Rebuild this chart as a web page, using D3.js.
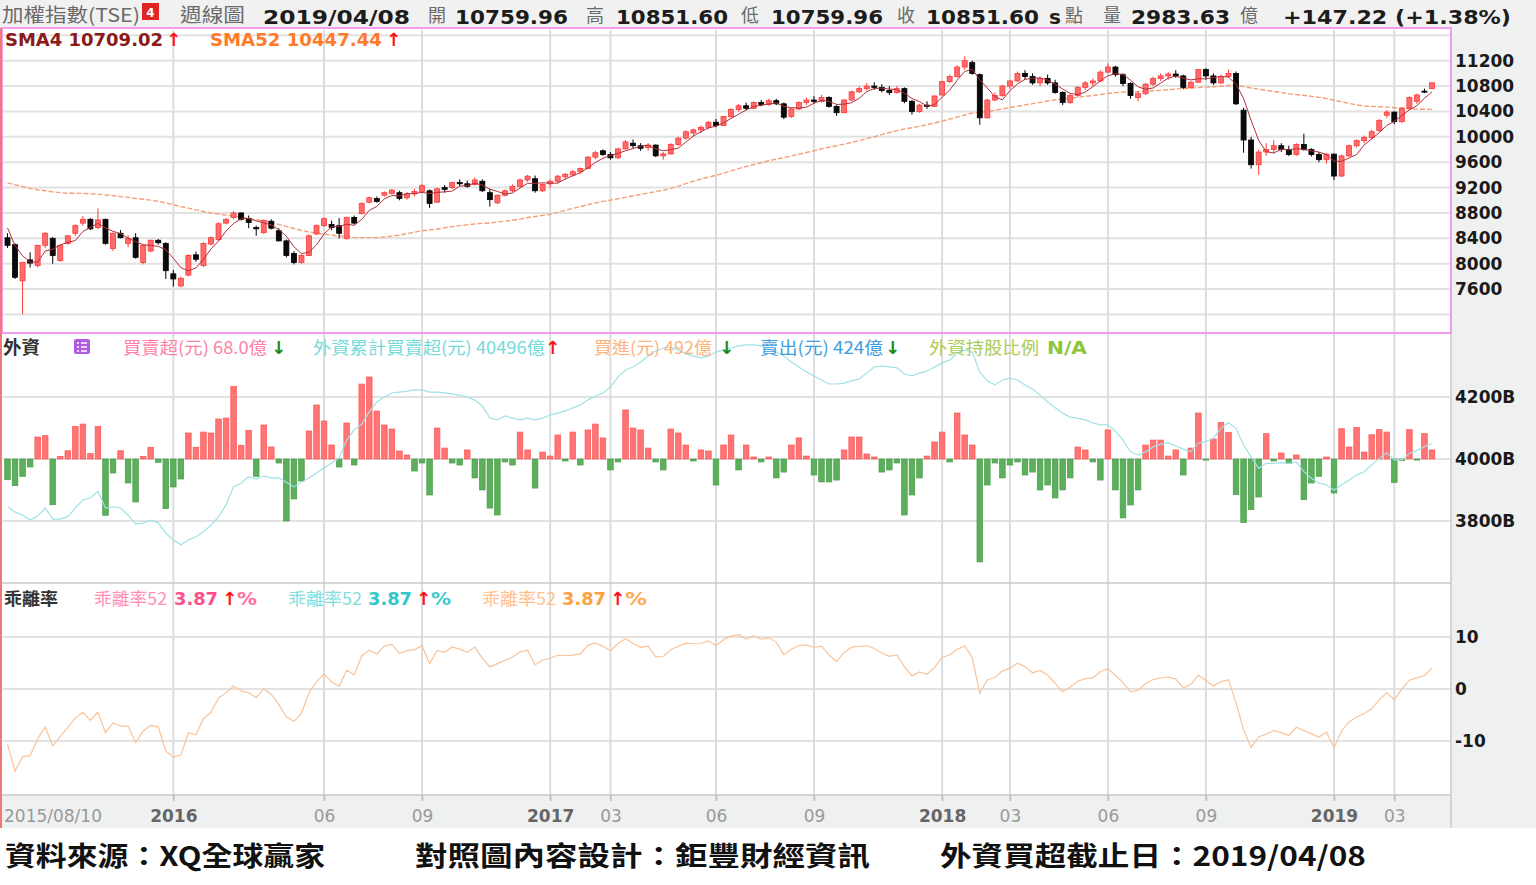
<!DOCTYPE html>
<html><head><meta charset="utf-8">
<script src="https://cdn.jsdelivr.net/npm/d3@7"></script>
<style>html,body{margin:0;padding:0;background:#fff}svg{display:block}</style>
</head><body>
<svg id="c" width="1536" height="885"></svg>
<script>
// ---------------- DATA ----------------
const skippedWeeks = ["2016-02-08","2019-02-04"];
const open = [
8410,8300,7730,8060,7970,8290,8400,8050,8320,8480,
8640,8700,8570,8700,8240,8480,8320,8410,8020,8200,
8370,8320,7840,7650,7820,8140,7970,8310,8380,8640,
8730,8800,8710,8570,8490,8670,8520,8360,8160,8020,
8130,8470,8600,8620,8600,8400,8730,8790,8970,9030,
9080,9110,9120,9040,9100,9140,9150,8970,9200,9200,
9280,9260,9250,9300,9120,8960,9080,9150,9220,9320,
9340,9150,9260,9300,9370,9400,9450,9500,9680,9780,
9720,9670,9810,9900,9860,9830,9870,9700,9730,9880,
9980,10060,10110,10150,10230,10180,10320,10430,10490,10450,
10540,10510,10570,10520,10320,10440,10540,10580,10560,10620,
10480,10380,10580,10710,10760,10800,10780,10730,10700,10760,
10560,10400,10500,10480,10660,10870,10950,11100,11170,10980,
10300,10580,10650,10800,10880,11000,10950,10850,10920,10850,
10700,10540,10650,10780,10850,10880,11020,11100,10980,10840,
10620,10680,10830,10920,10960,10990,10960,10780,10860,11060,
10960,10850,10950,11000,10420,9950,9560,9760,9800,9860,
9800,9720,9880,9800,9720,9640,9727,9382,9700,9860,
9940,9990,10100,10340,10390,10240,10450,10560,10720,10759.96];
const high = [
8480,8320,8030,8180,8300,8500,8420,8300,8450,8620,
8750,8720,8870,8710,8490,8530,8450,8480,8300,8380,
8390,8340,7900,7800,8150,8190,8340,8430,8650,8720,
8830,8810,8760,8600,8700,8700,8560,8380,8200,8150,
8460,8620,8730,8680,8720,8740,8760,8970,9060,9060,
9140,9180,9150,9130,9180,9260,9170,9200,9240,9290,
9330,9310,9360,9330,9180,9090,9170,9250,9340,9400,
9390,9270,9330,9400,9430,9480,9520,9700,9780,9800,
9760,9830,9950,9960,9900,9900,9880,9760,9900,10000,
10100,10130,10180,10250,10280,10330,10450,10520,10540,10560,
10580,10600,10600,10540,10460,10560,10620,10640,10660,10640,
10500,10600,10730,10800,10850,10860,10830,10800,10800,10780,
10580,10520,10560,10660,10880,10980,11130,11270,11200,11000,
10600,10700,10820,10900,11030,11050,11000,10950,10980,10900,
10720,10680,10800,10880,10920,11050,11160,11120,11000,10860,
10720,10850,10950,11000,11020,11050,10980,10880,11060,11080,
11000,10980,11060,11030,10460,10000,9800,9900,9950,9900,
9860,9900,10050,9820,9760,9740,9740,9720,9880,9960,
10020,10110,10280,10420,10400,10470,10640,10680,10760,10851.60];
const low = [
8250,7760,7203,7940,7940,8250,8000,8030,8300,8440,
8600,8530,8540,8300,8200,8400,8260,8080,7990,8180,
8300,7760,7640,7627,7800,8030,7950,8290,8360,8620,
8700,8680,8560,8440,8470,8540,8350,8100,7990,8000,
8120,8450,8580,8530,8400,8380,8620,8780,8950,8960,
9060,9090,9000,9010,9060,9120,8880,8960,9120,9180,
9220,9200,9230,9130,8900,8940,9060,9130,9200,9290,
9120,9130,9200,9270,9330,9380,9420,9490,9650,9700,
9640,9650,9800,9820,9780,9780,9680,9640,9720,9860,
9950,10000,10060,10120,10150,10170,10300,10400,10420,10440,
10480,10490,10500,10280,10300,10420,10500,10520,10540,10460,
10330,10370,10560,10690,10730,10740,10700,10660,10680,10530,
10350,10380,10440,10470,10650,10850,10930,11060,10980,10190,
10290,10560,10630,10760,10860,10900,10820,10800,10820,10680,
10500,10520,10630,10740,10800,10860,11000,10950,10800,10600,
10560,10660,10800,10880,10900,10930,10750,10760,10850,10900,
10820,10830,10930,10500,9750,9500,9400,9700,9740,9760,
9700,9700,9780,9690,9600,9580,9319,9370,9690,9830,
9900,9960,10080,10300,10200,10220,10430,10520,10690,10759.96];
const close = [
8290,7786,8019,8010,8290,8480,8130,8290,8440,8600,
8700,8550,8690,8320,8480,8410,8400,8100,8290,8370,
8330,7890,7760,7770,8130,8070,8320,8410,8630,8700,
8800,8700,8650,8550,8680,8560,8360,8130,8020,8130,
8440,8600,8710,8570,8480,8730,8640,8950,9040,8980,
9120,9160,9030,9100,9140,9230,8950,9180,9170,9280,
9260,9220,9320,9150,9010,9080,9150,9220,9320,9380,
9150,9250,9300,9380,9410,9450,9500,9680,9750,9720,
9670,9810,9920,9860,9820,9870,9700,9730,9880,9980,
10080,10110,10150,10230,10180,10320,10430,10490,10450,10540,
10510,10570,10520,10310,10440,10540,10580,10560,10620,10480,
10380,10580,10710,10760,10800,10780,10730,10700,10760,10560,
10400,10500,10480,10643,10870,10950,11100,11200,11000,10300,
10580,10650,10800,10880,11000,10950,10850,10920,10850,10700,
10540,10650,10780,10850,10880,11020,11100,10980,10840,10650,
10680,10830,10920,10960,10990,10960,10780,10860,11060,10960,
10850,10950,11000,10520,9950,9560,9760,9800,9860,9800,
9720,9880,9800,9720,9640,9727,9382,9700,9860,9940,
9990,10080,10260,10390,10240,10450,10620,10660,10704,10851.60];
// weekly closes of the 51 weeks before 2015/08/10 (needed by the 52-week average)
const priorCloses = [
9370,9450,9510,9450,9250,9100,8950,8930,8650,8720,
8970,8930,9000,9000,9190,9090,8950,8900,9170,9300,
9150,9200,9400,9360,9520,9590,9600,9620,9560,9590,
9630,9600,9590,9660,9820,9970,9800,9700,9720,9660,
9700,9450,9320,9280,9350,9280,9000,9050,8900,8670,8400];
// foreign investors weekly net buy/sell (億)
const foreignNet = [
-155,-200,-130,-60,165,175,-343,20,62,245,
262,40,245,-422,-105,62,-180,-322,20,88,
-25,-372,-210,-150,195,88,202,195,300,307,
545,103,215,-130,255,90,-30,-465,-300,-165,
210,405,285,105,-60,270,-45,562,615,360,
255,225,60,30,-90,-30,-270,232,82,-30,
-45,68,-142,-232,-368,-420,-22,-45,202,68,
-218,52,22,180,-15,202,-45,218,262,158,
-82,-22,368,232,218,82,-22,-82,225,195,
105,-15,68,60,-195,105,180,-82,105,15,
-22,15,-142,-98,105,158,22,-120,-172,-172,
-158,68,165,165,38,15,-98,-82,-30,-420,
-270,-142,22,128,202,-22,345,180,105,-772,
-195,-30,-142,-45,-22,-120,-98,-232,-195,-292,
-232,-142,90,68,-22,-158,218,-232,-442,-345,
-232,105,142,142,22,68,-120,82,345,-8,
150,274,200,-268,-476,-380,-285,190,-15,45,
-35,30,-305,-180,-130,15,-255,227,90,237,
52,182,220,202,-175,-11,220,-8,190,68];
// foreign cumulative net buy (B)
const foreignCum = [
3846,3829,3819,3803,3816,3842,3806,3806,3814,3842,
3868,3874,3895,3842,3846,3842,3819,3790,3794,3803,
3794,3761,3739,3723,3739,3749,3765,3787,3814,3852,
3911,3922,3943,3935,3945,3939,3939,3925,3910,3925,
3939,3955,3971,3987,4003,4061,4094,4113,4152,4184,
4200,4213,4216,4219,4223,4223,4216,4216,4213,4210,
4206,4200,4190,4171,4132,4126,4139,4132,4126,4132,
4126,4132,4142,4148,4155,4165,4174,4190,4203,4213,
4232,4265,4287,4297,4313,4332,4348,4358,4361,4352,
4339,4332,4326,4332,4345,4352,4358,4365,4368,4368,
4365,4355,4345,4332,4313,4297,4281,4268,4255,4242,
4242,4245,4252,4258,4277,4297,4300,4297,4294,4274,
4268,4277,4284,4297,4310,4319,4342,4352,4345,4281,
4252,4239,4255,4261,4255,4239,4226,4206,4184,4165,
4148,4135,4132,4126,4116,4110,4110,4090,4061,4023,
4013,4023,4039,4048,4052,4042,4032,4024,4051,4056,
4067,4099,4117,4099,4045,4007,3970,3986,3986,3988,
3986,3991,3959,3938,3922,3916,3900,3916,3932,3948,
3959,3981,4002,4020,3997,3997,4018,4027,4040,4050];
const priceTicks = [7600,8000,8400,8800,9200,9600,10000,10400,10800,11200];
const priceGrid = [7200,7600,8000,8400,8800,9200,9600,10000,10400,10800,11200,11600];
const cumTicks = [3800,4000,4200];
const devTicks = [-10,0,10];
const xTickDates  = ["2016-01-11","2016-06-06","2016-09-05","2017-01-02","2017-02-27","2017-06-05","2017-09-04","2018-01-01","2018-03-05","2018-06-04","2018-09-03","2018-12-31","2019-03-04"];
const xTickLabels = ["2016","06","09","2017","03","06","09","2018","03","06","09","2019","03"];

// ---------------- SETUP ----------------
const fmt = d3.timeFormat("%Y-%m-%d");
const dates = d3.timeMonday.range(new Date(2015,7,10), new Date(2019,3,9)).map(fmt).filter(d=>!skippedWeeks.includes(d));
const N = dates.length;
const idx = d3.range(N);
const allC = priorCloses.concat(close);
const P = priorCloses.length;
const sma4 = idx.map(i=>d3.mean(allC.slice(i+P-3,i+P+1)));
const sma52 = idx.map(i=>d3.mean(allC.slice(i+P-51,i+P+1)));
const dev52 = idx.map(i=>(close[i]-sma52[i])/sma52[i]*100);

const svg = d3.select("#c");
const L = 3, R = 1451;
const x = d3.scalePoint().domain(dates).range([7.5,1432]);
const yP = d3.scaleLinear().domain([7600,11200]).range([289.1,60.7]);
const yCum = d3.scaleLinear().domain([3800,4200]).range([521,397]);
const yBar = d3.scaleLinear().domain([0,750]).range([459,359]);
const yDev = d3.scaleLinear().domain([-10,10]).range([741,637]);

const NUM = "'DejaVu Sans', Verdana, sans-serif";
const CJK = "'Noto Sans CJK TC', 'Noto Sans CJK SC', sans-serif";

// backgrounds
svg.append("rect").attr("width",1536).attr("height",885).attr("fill","#fff");
svg.append("rect").attr("x",0).attr("y",0).attr("width",1536).attr("height",28).attr("fill","#f1f1f1");
svg.append("rect").attr("x",R).attr("y",28).attr("width",1536-R).attr("height",767).attr("fill","#eff1f1");
svg.append("rect").attr("x",0).attr("y",795).attr("width",1536).attr("height",33).attr("fill","#eff1f1");

// grid
const grid = svg.append("g");
grid.selectAll("line.hp").data(priceGrid).join("line")
  .attr("x1",L).attr("x2",R).attr("y1",d=>yP(d)).attr("y2",d=>yP(d))
  .attr("stroke","#e2e2e2").attr("stroke-width",2);
grid.selectAll("line.hc").data(cumTicks).join("line")
  .attr("x1",L).attr("x2",R).attr("y1",d=>yCum(d)).attr("y2",d=>yCum(d))
  .attr("stroke","#e2e2e2").attr("stroke-width",2);
grid.selectAll("line.hd").data(devTicks).join("line")
  .attr("x1",L).attr("x2",R).attr("y1",d=>yDev(d)).attr("y2",d=>yDev(d))
  .attr("stroke","#e2e2e2").attr("stroke-width",2);
grid.selectAll("line.v").data(xTickDates).join("line")
  .attr("x1",d=>x(d)).attr("x2",d=>x(d)).attr("y1",30).attr("y2",800)
  .attr("stroke","#dcdcdc").attr("stroke-width",2);

// panel frames
svg.append("line").attr("x1",0).attr("x2",R).attr("y1",583).attr("y2",583).attr("stroke","#c8c8c8").attr("stroke-width",1.5);
svg.append("line").attr("x1",0).attr("x2",R).attr("y1",795).attr("y2",795).attr("stroke","#c8c8c8").attr("stroke-width",1.5);
svg.append("line").attr("x1",R).attr("x2",R).attr("y1",333).attr("y2",828).attr("stroke","#c8c8c8").attr("stroke-width",1.5);

// ---------------- PRICE PANEL ----------------
const pg = svg.append("g");
pg.append("path").datum(idx).attr("fill","none").attr("stroke","#f4a07a").attr("stroke-width",1.4)
  .attr("stroke-dasharray","5,2")
  .attr("d",d3.line().x(i=>x(dates[i])).y(i=>yP(sma52[i])));
pg.selectAll("line.wick").data(idx).join("line")
  .attr("x1",i=>x(dates[i])).attr("x2",i=>x(dates[i]))
  .attr("y1",i=>yP(high[i])).attr("y2",i=>yP(low[i]))
  .attr("stroke",i=>close[i]>=open[i]?"#ff3a3a":"#000").attr("stroke-width",1);
pg.selectAll("rect.body").data(idx).join("rect")
  .attr("x",i=>x(dates[i])-2.5).attr("width",5)
  .attr("y",i=>yP(Math.max(open[i],close[i])))
  .attr("height",i=>Math.max(1,Math.abs(yP(open[i])-yP(close[i]))))
  .attr("fill",i=>close[i]>=open[i]?"#ff6b6b":"#0a0a0a")
  .attr("stroke",i=>close[i]>=open[i]?"#ff3a3a":"#000").attr("stroke-width",0.8);
pg.append("path").datum(idx).attr("fill","none").attr("stroke","#b0303a").attr("stroke-width",1)
  .attr("d",d3.line().x(i=>x(dates[i])).y(i=>yP(sma4[i])));

// ---------------- FOREIGN PANEL ----------------
const fg = svg.append("g");
fg.selectAll("rect.bar").data(idx).join("rect")
  .attr("x",i=>x(dates[i])-2.8).attr("width",5.6)
  .attr("y",i=>foreignNet[i]>=0?yBar(foreignNet[i]):yBar(0))
  .attr("height",i=>Math.max(1,Math.abs(yBar(foreignNet[i])-yBar(0))))
  .attr("fill",i=>foreignNet[i]>=0?"#ff7474":"#5cb05c")
  .attr("stroke",i=>foreignNet[i]>=0?"#ff5555":"#4a9a4a").attr("stroke-width",0.7);
fg.append("path").datum(idx).attr("fill","none").attr("stroke","#9fe2e6").attr("stroke-width",1.2)
  .attr("d",d3.line().x(i=>x(dates[i])).y(i=>yCum(foreignCum[i])));

// ---------------- DEVIATION PANEL ----------------
svg.append("path").datum(idx).attr("fill","none").attr("stroke","#f9c49a").attr("stroke-width",1.2)
  .attr("d",d3.line().x(i=>x(dates[i])).y(i=>yDev(dev52[i])));

// ---------------- AXES ----------------
function styleAxis(g){
  g.select(".domain").remove();
  g.selectAll(".tick line").remove();
  g.selectAll("text").attr("font-family",NUM).attr("font-weight","bold").attr("font-size",17).attr("fill","#1a1a1a");
}
svg.append("g").attr("transform",`translate(${R+1},0)`)
  .call(d3.axisRight(yP).tickValues(priceTicks).tickSize(0).tickPadding(3).tickFormat(d=>String(d))).call(styleAxis);
svg.append("g").attr("transform",`translate(${R+1},0)`)
  .call(d3.axisRight(yCum).tickValues(cumTicks).tickSize(0).tickPadding(3).tickFormat(d=>d+"B")).call(styleAxis);
svg.append("g").attr("transform",`translate(${R+1},0)`)
  .call(d3.axisRight(yDev).tickValues(devTicks).tickSize(0).tickPadding(3).tickFormat(d=>String(d))).call(styleAxis);

const xa = svg.append("g").attr("transform","translate(0,795)")
  .call(d3.axisBottom(x).tickValues(xTickDates).tickSize(6).tickPadding(9).tickFormat((d,k)=>xTickLabels[k]));
xa.select(".domain").remove();
xa.selectAll(".tick line").attr("stroke","#bdbdbd").attr("stroke-width",1.5);
xa.selectAll("text").attr("font-family",NUM).attr("font-size",17)
  .attr("fill",(d,k)=>xTickLabels[k].length===4?"#666":"#999")
  .attr("font-weight",(d,k)=>xTickLabels[k].length===4?"bold":"normal");
svg.append("text").attr("x",4).attr("y",822).attr("font-family",NUM).attr("font-size",17)
  .attr("fill","#999").text("2015/08/10");

// price panel border + left edge
svg.append("rect").attr("x",2).attr("y",28).attr("width",R-2).attr("height",305)
  .attr("fill","none").attr("stroke","#f29cf0").attr("stroke-width",2);
svg.append("line").attr("x1",1).attr("x2",1).attr("y1",28).attr("y2",828).attr("stroke","#f07878").attr("stroke-width",2);

// ---------------- TEXT ----------------
function t(xp,yp,s,o={}){
  const e = svg.append("text").attr("x",xp).attr("y",yp).text(s)
    .attr("font-family",o.f||CJK).attr("font-size",o.s||18).attr("fill",o.c||"#333")
    .attr("font-weight",o.w||"normal");
  if(o.len) e.attr("textLength",o.len).attr("lengthAdjust","spacingAndGlyphs");
  return e;
}
const grey="#6a6a6a", dark="#1c1c1c";
// header
t(2,22,"加權指數(TSE)",{c:grey,s:19,len:138});
svg.append("rect").attr("x",142).attr("y",3).attr("width",17).attr("height",17).attr("fill","#e02424");
t(150.5,17,"4",{f:NUM,s:12,c:"#fff",w:"bold"}).attr("text-anchor","middle");
t(180,22,"週線圖",{c:grey,s:19,len:65});
t(263,24,"2019/04/08",{f:NUM,s:20,w:"bold",c:dark,len:147});
t(428,22,"開",{c:grey,s:18});
t(455,24,"10759.96",{f:NUM,s:20,w:"bold",c:dark,len:113});
t(586,22,"高",{c:grey,s:18});
t(616,24,"10851.60",{f:NUM,s:20,w:"bold",c:dark,len:112});
t(741,22,"低",{c:grey,s:18});
t(771,24,"10759.96",{f:NUM,s:20,w:"bold",c:dark,len:112});
t(897,22,"收",{c:grey,s:18});
t(926,24,"10851.60",{f:NUM,s:20,w:"bold",c:dark,len:113});
t(1049,24,"s",{f:NUM,s:20,w:"bold",c:dark});
t(1065,22,"點",{c:grey,s:18});
t(1103,22,"量",{c:grey,s:18});
t(1131,24,"2983.63",{f:NUM,s:20,w:"bold",c:dark,len:99});
t(1240,22,"億",{c:grey,s:18});
t(1283,24,"+147.22 (+1.38%)",{f:NUM,s:20,w:"bold",c:dark,len:228});
// SMA row
t(5,46,"SMA4 10709.02",{f:NUM,s:17.5,w:"bold",c:"#8b1a1a",len:158});
t(166,46,"↑",{f:NUM,s:18,w:"bold",c:"#ff1010"});
t(210,46,"SMA52 10447.44",{f:NUM,s:17.5,w:"bold",c:"#ff7a2a",len:172});
t(386,46,"↑",{f:NUM,s:18,w:"bold",c:"#ff1010"});
// foreign row
t(3,354,"外資",{c:"#333",s:18,w:"bold",len:37});
svg.append("rect").attr("x",74).attr("y",339).attr("width",16).attr("height",15).attr("rx",2).attr("fill","#b05ce0");
[343,347,351].forEach(yy=>{
  svg.append("line").attr("x1",77).attr("x2",79).attr("y1",yy).attr("y2",yy).attr("stroke","#fff").attr("stroke-width",1.5);
  svg.append("line").attr("x1",81).attr("x2",87).attr("y1",yy).attr("y2",yy).attr("stroke","#fff").attr("stroke-width",1.5);
});
t(123,354,"買賣超(元) 68.0億",{c:"#ff7fa6",s:17,len:144});
t(271,354,"↓",{f:NUM,s:18,w:"bold",c:"#158a15"});
t(313,354,"外資累計買賣超(元) 40496億",{c:"#74dada",s:17,len:232});
t(545,354,"↑",{f:NUM,s:18,w:"bold",c:"#ff1010"});
t(594,354,"買進(元) 492億",{c:"#ffb27a",s:17,len:118});
t(719,354,"↓",{f:NUM,s:18,w:"bold",c:"#158a15"});
t(760,354,"賣出(元) 424億",{c:"#3f9ee0",s:17,len:123});
t(885,354,"↓",{f:NUM,s:18,w:"bold",c:"#158a15"});
t(929,354,"外資持股比例",{c:"#aacb5a",s:17,len:110});
t(1047,354,"N/A",{f:NUM,s:17,w:"bold",c:"#8cc43c",len:40});
// deviation row
t(4,605,"乖離率",{c:"#333",s:17,w:"bold",len:54});
t(94,605,"乖離率52",{c:"#ff8fb2",s:17,len:73});
t(174,605,"3.87",{f:NUM,s:17,w:"bold",c:"#ff4f8a",len:44});
t(222,605,"↑",{f:NUM,s:18,w:"bold",c:"#ff1010"});
t(237,605,"%",{f:NUM,s:17,w:"bold",c:"#ff6f9f",len:20});
t(288,605,"乖離率52",{c:"#7fdede",s:17,len:74});
t(368,605,"3.87",{f:NUM,s:17,w:"bold",c:"#33c8c8",len:44});
t(416,605,"↑",{f:NUM,s:18,w:"bold",c:"#ff1010"});
t(431,605,"%",{f:NUM,s:17,w:"bold",c:"#40cccc",len:20});
t(482,605,"乖離率52",{c:"#ffc08e",s:17,len:74});
t(562,605,"3.87",{f:NUM,s:17,w:"bold",c:"#ffa040",len:44});
t(610,605,"↑",{f:NUM,s:18,w:"bold",c:"#ff1010"});
t(625,605,"%",{f:NUM,s:17,w:"bold",c:"#ffaa50",len:22});
// footer
t(5,866,"資料來源：XQ全球贏家",{c:"#111",s:27,w:"bold",len:320});
t(415,866,"對照圖內容設計：鉅豐財經資訊",{c:"#111",s:27,w:"bold",len:455});
t(940,866,"外資買超截止日：2019/04/08",{c:"#111",s:27,w:"bold",len:426});
</script>
</body></html>
